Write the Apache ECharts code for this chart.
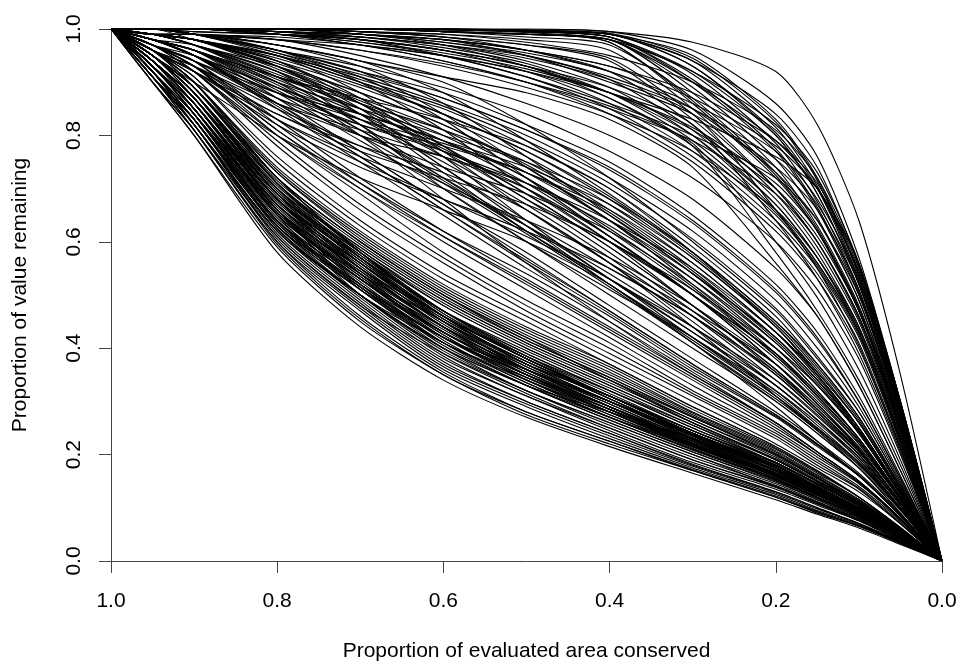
<!DOCTYPE html>
<html>
<head>
<meta charset="utf-8">
<script src="https://cdn.jsdelivr.net/npm/echarts@6/dist/echarts.min.js"></script>
<style>
  html, body { margin: 0; padding: 0; background: #fff; }
  #chart { width: 961px; height: 663px; }
</style>
</head>
<body>
<div id="chart"></div>
<script>
// proportion of evaluated area conserved (x positions shared by every curve)
const areaConserved = [1.0, 0.95, 0.9, 0.8, 0.7, 0.6, 0.5, 0.4, 0.3, 0.2, 0.15, 0.1, 0.05, 0.0];

// dense lower bundle
const lowerCurves = [
  [1, .90, .80, .58, .44, .34, .27, .215, .165, .115, .088, .062, .031, 0],
  [1, .90, .80, .59, .45, .35, .275, .22, .17, .12, .09, .065, .033, 0],
  [1, .91, .81, .60, .47, .36, .29, .23, .175, .125, .095, .068, .035, 0],
  [1, .91, .82, .61, .48, .37, .30, .24, .18, .13, .10, .07, .036, 0],
  [1, .92, .82, .62, .49, .38, .31, .245, .185, .135, .105, .075, .038, 0],
  [1, .92, .83, .63, .50, .39, .315, .25, .19, .14, .11, .078, .04, 0],
  [1, .92, .83, .63, .51, .40, .32, .26, .20, .145, .112, .08, .042, 0],
  [1, .93, .84, .64, .52, .41, .33, .265, .205, .15, .115, .082, .043, 0],
  [1, .93, .84, .65, .53, .42, .34, .27, .21, .155, .12, .085, .045, 0],
  [1, .93, .85, .66, .53, .43, .35, .28, .215, .16, .125, .09, .047, 0],
  [1, .93, .85, .66, .54, .44, .36, .29, .22, .165, .13, .092, .048, 0],
  [1, .94, .86, .67, .55, .44, .36, .30, .23, .17, .135, .095, .05, 0],
  [1, .94, .86, .68, .56, .45, .37, .30, .235, .175, .14, .10, .052, 0],
  [1, .94, .87, .69, .57, .46, .38, .31, .24, .18, .14, .10, .053, 0],
  [1, .94, .87, .69, .58, .47, .39, .32, .25, .185, .145, .105, .055, 0],
  [1, .95, .88, .70, .58, .48, .40, .33, .26, .19, .15, .11, .057, 0],
  [1, .95, .88, .71, .59, .49, .41, .34, .27, .20, .155, .11, .058, 0],
  [1, .95, .89, .72, .60, .50, .42, .35, .275, .205, .16, .115, .06, 0],
  [1, .95, .89, .73, .61, .51, .43, .36, .28, .21, .165, .12, .062, 0],
  [1, .96, .90, .74, .62, .52, .44, .37, .29, .215, .17, .12, .063, 0],
  [1, .92, .84, .66, .52, .42, .36, .30, .24, .18, .14, .10, .05, 0],
  [1, .94, .85, .65, .50, .40, .33, .28, .23, .17, .135, .095, .05, 0],
  [1, .91, .82, .62, .50, .41, .34, .28, .22, .16, .125, .09, .046, 0],
  [1, .95, .87, .68, .54, .43, .35, .29, .225, .16, .125, .088, .045, 0],
  [1, .93, .85, .67, .55, .46, .38, .31, .24, .17, .13, .092, .047, 0],
  [1, .90, .81, .61, .48, .39, .32, .26, .20, .14, .108, .076, .04, 0],
  [1, .96, .89, .71, .57, .46, .37, .31, .245, .18, .14, .10, .052, 0],
  [1, .94, .86, .66, .51, .41, .34, .275, .215, .155, .12, .085, .044, 0],
  [1, .92, .83, .64, .53, .44, .37, .31, .245, .185, .145, .105, .055, 0],
  [1, .95, .88, .70, .56, .45, .36, .29, .225, .165, .13, .092, .048, 0],
  [1, .91, .81, .60, .46, .355, .28, .225, .17, .12, .092, .066, .034, 0],
  [1, .92, .83, .625, .495, .385, .31, .25, .19, .138, .107, .076, .039, 0],
  [1, .93, .84, .645, .525, .415, .335, .27, .208, .152, .118, .084, .044, 0],
  [1, .93, .85, .655, .535, .435, .355, .285, .218, .162, .127, .091, .047, 0],
  [1, .94, .86, .675, .555, .445, .365, .30, .232, .172, .137, .097, .051, 0],
  [1, .94, .87, .685, .565, .455, .375, .305, .238, .178, .14, .10, .052, 0],
  [1, .95, .88, .705, .585, .485, .405, .335, .265, .195, .152, .11, .057, 0],
  [1, .95, .89, .715, .595, .495, .415, .345, .272, .202, .158, .113, .059, 0],
  [1, .96, .90, .735, .615, .515, .435, .365, .285, .212, .168, .12, .062, 0],
  [1, .92, .84, .65, .54, .45, .37, .30, .23, .165, .13, .092, .048, 0],
  [1, .94, .86, .67, .54, .43, .355, .29, .225, .16, .125, .09, .046, 0],
  [1, .93, .84, .64, .51, .41, .345, .285, .225, .165, .13, .092, .048, 0],
  [1, .95, .88, .69, .55, .44, .36, .30, .235, .175, .138, .098, .05, 0],
  [1, .96, .90, .72, .58, .47, .38, .31, .24, .175, .135, .095, .05, 0],
  [1, .91, .83, .635, .515, .42, .35, .29, .23, .17, .133, .095, .05, 0],
  [1, .91, .82, .615, .485, .375, .30, .24, .182, .13, .10, .071, .037, 0],
  [1, .92, .83, .64, .515, .405, .33, .265, .205, .148, .115, .082, .043, 0],
  [1, .93, .85, .66, .545, .44, .36, .29, .222, .163, .128, .091, .047, 0],
  [1, .94, .87, .69, .575, .465, .385, .315, .245, .183, .143, .103, .054, 0],
  [1, .95, .88, .70, .59, .49, .41, .34, .265, .198, .155, .11, .058, 0],
  [1, .96, .90, .73, .605, .505, .425, .355, .278, .207, .162, .116, .061, 0],
  [1, .93, .86, .68, .55, .44, .35, .28, .215, .155, .12, .086, .045, 0],
  [1, .94, .87, .70, .57, .45, .36, .29, .225, .16, .125, .09, .047, 0],
  [1, .92, .83, .63, .52, .43, .36, .30, .24, .175, .137, .098, .051, 0],
  [1, .95, .89, .72, .58, .46, .37, .30, .235, .17, .133, .095, .05, 0],
  [1, .91, .82, .63, .51, .42, .35, .285, .222, .16, .125, .09, .047, 0],
  [1, .94, .86, .67, .56, .46, .38, .305, .235, .17, .133, .095, .05, 0],
  [1, .96, .90, .72, .60, .50, .42, .34, .26, .19, .148, .105, .055, 0],
  [1, .93, .85, .66, .55, .45, .375, .31, .245, .18, .14, .10, .052, 0],
  [1, .95, .88, .69, .57, .47, .395, .325, .255, .185, .145, .104, .054, 0],
  [1, .90, .81, .595, .455, .35, .28, .225, .172, .122, .093, .066, .034, 0],
  [1, .91, .82, .605, .475, .365, .295, .235, .178, .128, .098, .07, .036, 0],
  [1, .92, .83, .625, .50, .395, .32, .255, .195, .142, .11, .078, .04, 0],
  [1, .93, .84, .635, .515, .41, .335, .27, .21, .153, .119, .085, .044, 0],
  [1, .93, .85, .65, .53, .425, .345, .28, .217, .158, .123, .088, .046, 0],
  [1, .94, .86, .665, .545, .44, .36, .295, .228, .168, .131, .094, .049, 0],
  [1, .94, .87, .68, .56, .455, .375, .305, .237, .175, .137, .098, .051, 0],
  [1, .95, .88, .695, .575, .47, .39, .32, .25, .185, .145, .104, .054, 0],
  [1, .95, .88, .71, .585, .48, .40, .33, .26, .192, .15, .107, .056, 0],
  [1, .96, .89, .72, .60, .50, .415, .345, .27, .20, .156, .112, .058, 0],
  [1, .92, .84, .655, .53, .43, .35, .285, .22, .16, .125, .09, .047, 0],
  [1, .93, .85, .67, .55, .45, .365, .295, .228, .165, .13, .093, .048, 0],
  [1, .94, .86, .68, .57, .47, .385, .31, .24, .175, .137, .098, .051, 0],
  [1, .91, .83, .64, .52, .42, .345, .28, .218, .158, .123, .088, .046, 0],
  [1, .95, .89, .71, .58, .465, .38, .31, .24, .178, .14, .10, .052, 0],
  [1, .96, .91, .75, .63, .53, .45, .37, .29, .215, .168, .12, .062, 0],
  [1, .92, .82, .62, .50, .40, .33, .27, .215, .16, .127, .092, .048, 0],
  [1, .93, .85, .66, .535, .425, .34, .275, .212, .152, .118, .084, .044, 0],
  [1, .94, .87, .69, .565, .46, .38, .31, .24, .175, .136, .097, .05, 0],
  [1, .95, .87, .68, .56, .46, .385, .32, .255, .19, .15, .108, .056, 0]
];

// spread of curves through the middle
const middleCurves = [
  [1, .96, .91, .76, .64, .54, .46, .38, .30, .22, .175, .13, .07, 0],
  [1, .96, .92, .78, .66, .56, .47, .39, .31, .23, .18, .135, .07, 0],
  [1, .97, .93, .80, .69, .58, .49, .41, .32, .24, .19, .14, .075, 0],
  [1, .97, .93, .81, .70, .60, .51, .42, .33, .245, .195, .145, .078, 0],
  [1, .97, .94, .83, .72, .62, .53, .44, .35, .26, .205, .15, .08, 0],
  [1, .98, .95, .85, .75, .65, .55, .46, .36, .27, .215, .16, .085, 0],
  [1, .98, .95, .86, .77, .67, .58, .48, .38, .28, .225, .165, .088, 0],
  [1, .98, .96, .88, .79, .70, .60, .50, .40, .30, .24, .175, .095, 0],
  [1, .98, .96, .89, .81, .72, .63, .53, .42, .31, .25, .185, .10, 0],
  [1, .99, .97, .90, .83, .75, .66, .56, .45, .33, .265, .195, .105, 0],
  [1, .99, .97, .91, .85, .77, .68, .58, .47, .35, .28, .205, .11, 0],
  [1, .99, .97, .92, .86, .79, .71, .61, .50, .37, .295, .215, .115, 0],
  [1, .99, .98, .93, .87, .81, .73, .64, .53, .40, .32, .23, .12, 0],
  [1, .99, .98, .94, .89, .83, .76, .67, .56, .43, .345, .25, .13, 0],
  [1, .99, .98, .95, .90, .85, .78, .70, .59, .46, .37, .27, .14, 0],
  [1, 1, .98, .95, .91, .86, .80, .72, .62, .49, .40, .29, .15, 0],
  [1, 1, .99, .96, .92, .88, .82, .75, .65, .52, .43, .31, .16, 0],
  [1, 1, .99, .96, .93, .89, .84, .77, .68, .55, .46, .33, .17, 0],
  [1, .95, .90, .80, .72, .66, .60, .52, .41, .29, .225, .16, .085, 0],
  [1, .98, .96, .90, .80, .68, .56, .45, .35, .26, .205, .15, .08, 0],
  [1, .97, .93, .84, .78, .73, .66, .56, .44, .31, .245, .175, .09, 0],
  [1, .99, .97, .92, .82, .70, .60, .51, .42, .32, .26, .19, .10, 0],
  [1, .96, .92, .82, .74, .68, .62, .55, .46, .35, .28, .20, .105, 0],
  [1, .99, .98, .94, .86, .76, .64, .53, .43, .33, .265, .195, .10, 0],
  [1, .98, .95, .87, .80, .74, .69, .62, .52, .40, .32, .23, .12, 0],
  [1, .99, .98, .95, .88, .78, .68, .60, .51, .40, .33, .24, .125, 0],
  [1, .97, .94, .86, .80, .76, .71, .64, .55, .43, .35, .25, .13, 0],
  [1, 1, .99, .96, .92, .84, .74, .64, .54, .42, .34, .25, .13, 0],
  [1, .98, .96, .90, .85, .80, .75, .68, .58, .45, .37, .27, .14, 0],
  [1, 1, .99, .97, .94, .90, .82, .72, .60, .47, .38, .28, .145, 0],
  [1, .97, .92, .79, .67, .57, .48, .40, .315, .235, .185, .137, .072, 0],
  [1, .97, .94, .82, .71, .61, .52, .43, .34, .25, .20, .147, .078, 0],
  [1, .98, .95, .855, .76, .66, .565, .47, .37, .275, .22, .162, .086, 0],
  [1, .98, .96, .885, .80, .71, .615, .515, .41, .305, .245, .18, .097, 0],
  [1, .99, .97, .905, .84, .76, .67, .57, .46, .34, .272, .20, .107, 0],
  [1, .99, .98, .925, .865, .80, .72, .625, .515, .385, .31, .225, .118, 0],
  [1, .99, .98, .945, .895, .84, .77, .685, .575, .445, .36, .26, .135, 0],
  [1, 1, .99, .955, .915, .87, .81, .735, .635, .505, .415, .30, .155, 0],
  [1, .96, .93, .85, .78, .71, .63, .54, .44, .33, .265, .19, .10, 0],
  [1, .98, .97, .92, .84, .74, .63, .52, .41, .30, .24, .175, .09, 0],
  [1, .97, .95, .89, .83, .77, .70, .60, .48, .36, .285, .205, .11, 0],
  [1, .99, .98, .94, .87, .77, .66, .56, .47, .37, .30, .22, .115, 0],
  [1, .97, .93, .81, .71, .62, .54, .45, .355, .26, .205, .15, .08, 0],
  [1, .98, .96, .87, .77, .67, .57, .47, .37, .275, .22, .16, .085, 0],
  [1, .99, .97, .91, .82, .72, .62, .52, .42, .315, .25, .185, .10, 0],
  [1, .99, .98, .93, .86, .78, .69, .59, .48, .36, .29, .21, .11, 0],
  [1, 1, .99, .95, .90, .84, .77, .68, .57, .44, .355, .26, .135, 0],
  [1, 1, .99, .96, .92, .87, .81, .74, .64, .51, .42, .30, .155, 0],
  [1, .97, .94, .87, .82, .78, .73, .66, .56, .43, .35, .25, .13, 0],
  [1, .98, .95, .89, .84, .79, .74, .67, .57, .44, .35, .25, .13, 0],
  [1, 1, .99, .97, .93, .86, .76, .65, .54, .42, .34, .245, .13, 0],
  [1, .99, .98, .93, .85, .74, .64, .55, .46, .355, .285, .205, .11, 0],
  [1, .96, .92, .83, .76, .70, .64, .57, .48, .37, .295, .21, .11, 0],
  [1, .98, .96, .91, .86, .81, .75, .66, .55, .42, .34, .245, .13, 0],
  [1, .99, .99, .96, .91, .83, .72, .61, .50, .39, .315, .23, .12, 0],
  [1, .97, .93, .83, .75, .68, .61, .53, .43, .32, .255, .185, .097, 0],
  [1, .98, .95, .88, .82, .77, .71, .63, .53, .41, .33, .24, .125, 0],
  [1, .97, .92, .80, .70, .61, .525, .435, .345, .255, .20, .147, .078, 0],
  [1, .98, .95, .86, .76, .66, .56, .465, .365, .272, .218, .16, .085, 0],
  [1, .98, .96, .895, .81, .715, .62, .52, .415, .31, .248, .182, .097, 0],
  [1, .99, .97, .915, .85, .775, .69, .59, .48, .355, .285, .208, .11, 0],
  [1, .99, .98, .935, .88, .82, .745, .655, .545, .415, .335, .243, .127, 0],
  [1, 1, .99, .955, .905, .855, .79, .71, .605, .475, .385, .28, .145, 0],
  [1, .96, .92, .84, .77, .72, .67, .60, .50, .38, .305, .22, .115, 0],
  [1, .98, .95, .88, .83, .785, .73, .65, .54, .41, .33, .24, .125, 0],
  [1, .99, .98, .93, .84, .73, .62, .53, .44, .34, .275, .20, .105, 0],
  [1, 1, .99, .96, .90, .81, .70, .60, .50, .39, .315, .23, .12, 0],
  [1, .97, .94, .88, .84, .79, .72, .62, .51, .385, .31, .225, .118, 0],
  [1, .99, .97, .93, .88, .82, .74, .64, .52, .39, .31, .225, .117, 0],
  [1, .98, .96, .91, .87, .83, .78, .70, .58, .44, .355, .26, .135, 0],
  [1, .99, .99, .97, .94, .88, .79, .69, .58, .45, .365, .265, .138, 0],
  [1, .96, .93, .86, .81, .76, .70, .61, .50, .37, .295, .212, .11, 0]
];

// curves that hold their value until little area is left
const upperCurves = [
  [1, 1, 1, .99, .97, .94, .90, .84, .75, .62, .53, .40, .21, 0],
  [1, 1, 1, .99, .98, .96, .92, .86, .77, .64, .55, .42, .22, 0],
  [1, 1, 1, .995, .985, .97, .94, .89, .80, .66, .56, .43, .23, 0],
  [1, 1, 1, 1, .99, .98, .96, .92, .82, .68, .58, .44, .24, 0],
  [1, 1, 1, 1, .995, .99, .98, .96, .85, .70, .60, .46, .25, 0],
  [1, 1, 1, 1, 1, .995, .99, .975, .86, .72, .62, .47, .26, 0],
  [1, 1, 1, 1, 1, .995, .99, .98, .88, .74, .63, .48, .26, 0],
  [1, 1, 1, 1, 1, 1, .995, .985, .90, .77, .66, .50, .27, 0],
  [1, 1, 1, 1, 1, 1, .995, .99, .93, .80, .69, .52, .28, 0],
  [1, 1, 1, 1, 1, 1, .998, .99, .95, .83, .72, .54, .29, 0],
  [1, 1, 1, 1, 1, 1, 1, .995, .96, .86, .76, .57, .30, 0],
  [1, 1, 1, 1, 1, 1, 1, .995, .975, .92, .82, .64, .35, 0],
  [1, 1, 1, 1, .99, .97, .93, .88, .83, .76, .70, .56, .30, 0],
  [1, 1, 1, .99, .98, .95, .91, .86, .80, .72, .64, .50, .27, 0],
  [1, 1, .99, .98, .96, .93, .89, .84, .77, .66, .57, .44, .23, 0],
  [1, 1, .99, .98, .95, .91, .86, .80, .72, .60, .51, .38, .20, 0],
  [1, 1, 1, .99, .97, .95, .92, .87, .78, .58, .47, .34, .18, 0],
  [1, .99, .99, .97, .94, .91, .88, .83, .74, .56, .46, .33, .17, 0],
  [1, 1, 1, .99, .975, .95, .91, .85, .76, .63, .54, .41, .215, 0],
  [1, 1, 1, .995, .99, .975, .95, .905, .81, .67, .57, .435, .235, 0],
  [1, 1, 1, 1, 1, .995, .985, .97, .87, .73, .625, .475, .26, 0],
  [1, 1, 1, 1, 1, 1, .995, .985, .915, .785, .675, .51, .275, 0],
  [1, 1, 1, 1, 1, 1, .997, .99, .94, .815, .705, .53, .285, 0],
  [1, 1, 1, 1, .99, .98, .95, .90, .84, .74, .66, .51, .27, 0],
  [1, 1, .99, .985, .97, .94, .90, .85, .79, .69, .60, .46, .245, 0],
  [1, 1, 1, .995, .98, .96, .93, .87, .78, .65, .555, .425, .225, 0],
  [1, 1, 1, 1, .995, .985, .97, .94, .83, .69, .59, .45, .24, 0],
  [1, 1, 1, 1, 1, .995, .99, .98, .89, .755, .645, .49, .265, 0],
  [1, 1, 1, 1, 1, 1, .997, .99, .94, .84, .74, .555, .295, 0],
  [1, 1, 1, 1, .995, .985, .96, .92, .86, .77, .68, .53, .28, 0],
  [1, 1, .99, .98, .97, .95, .92, .88, .81, .70, .61, .47, .25, 0],
  [1, 1, 1, .99, .98, .96, .93, .89, .82, .64, .53, .39, .205, 0],
  [1, 1, 1, 1, .99, .98, .96, .93, .88, .79, .71, .55, .29, 0],
  [1, 1, .995, .99, .98, .96, .93, .88, .80, .67, .57, .43, .225, 0],
  [1, 1, 1, 1, 1, .998, .995, .985, .92, .80, .69, .52, .28, 0],
  [1, 1, 1, .995, .985, .965, .935, .88, .79, .655, .56, .43, .225, 0],
  [1, 1, 1, 1, .995, .985, .97, .945, .84, .70, .60, .455, .245, 0],
  [1, 1, 1, 1, 1, .995, .99, .975, .865, .725, .62, .47, .255, 0],
  [1, 1, 1, 1, 1, 1, .995, .985, .905, .775, .665, .505, .27, 0],
  [1, 1, 1, 1, 1, 1, .997, .99, .93, .805, .70, .525, .28, 0],
  [1, 1, 1, 1, 1, 1, .998, .992, .945, .825, .715, .535, .287, 0],
  [1, 1, 1, 1, 1, .998, .993, .98, .90, .79, .70, .54, .29, 0],
  [1, 1, 1, .995, .99, .98, .96, .93, .87, .78, .70, .545, .29, 0],
  [1, 1, 1, .99, .985, .97, .95, .91, .85, .755, .67, .52, .275, 0],
  [1, 1, .995, .99, .975, .955, .925, .88, .815, .71, .62, .475, .25, 0],
  [1, 1, 1, .995, .985, .97, .945, .905, .84, .66, .55, .405, .212, 0],
  [1, .99, .99, .98, .96, .935, .90, .855, .785, .60, .495, .36, .19, 0],
  [1, 1, 1, 1, .995, .99, .975, .95, .90, .81, .72, .555, .295, 0],
  [1, 1, 1, 1, 1, .995, .99, .98, .92, .82, .73, .56, .30, 0],
  [1, 1, 1, .995, .99, .975, .955, .92, .85, .73, .64, .49, .26, 0]
];

const tickValues = [0, 0.2, 0.4, 0.6, 0.8, 1.0];

const allCurves = lowerCurves.concat(middleCurves, upperCurves);
const font = "'Liberation Sans', Arial, Helvetica, sans-serif";

const chart = echarts.init(document.getElementById('chart'), null, { renderer: 'canvas' });

chart.setOption({
  animation: false,
  backgroundColor: '#fff',
  grid: {
    left: 111,
    right: 19,
    top: 29,
    bottom: 102,
    outerBoundsMode: 'none'
  },
  xAxis: {
    type: 'value',
    min: tickValues[0],
    max: tickValues[tickValues.length - 1],
    interval: 0.2,
    inverse: true,
    name: 'Proportion of evaluated area conserved',
    nameLocation: 'middle',
    nameGap: 80,
    nameTextStyle: { color: '#000', fontSize: 21, fontFamily: font },
    axisLine: { show: true, onZero: false, lineStyle: { color: '#444', width: 1 } },
    axisTick: { show: true, length: 12, lineStyle: { color: '#444', width: 1 } },
    axisLabel: {
      margin: 30,
      color: '#000',
      fontSize: 21,
      fontFamily: font,
      formatter: v => v.toFixed(1)
    },
    splitLine: { show: false }
  },
  yAxis: {
    type: 'value',
    min: tickValues[0],
    max: tickValues[tickValues.length - 1],
    interval: 0.2,
    name: 'Proportion of value remaining',
    nameLocation: 'middle',
    nameGap: 80,
    nameTextStyle: { color: '#000', fontSize: 21, fontFamily: font },
    axisLine: { show: true, onZero: false, lineStyle: { color: '#444', width: 1 } },
    axisTick: { show: true, length: 12, lineStyle: { color: '#444', width: 1 } },
    axisLabel: {
      margin: 26,
      rotate: 90,
      color: '#000',
      fontSize: 21,
      fontFamily: font,
      formatter: v => v.toFixed(1)
    },
    splitLine: { show: false }
  },
  series: allCurves.map((curve, k) => ({
    name: 'curve' + k,
    type: 'line',
    data: areaConserved.map((x, i) => [x, curve[i]]),
    showSymbol: false,
    smooth: 0.25,
    silent: true,
    lineStyle: { color: '#000', width: 1.1 }
  }))
});
</script>
</body>
</html>
